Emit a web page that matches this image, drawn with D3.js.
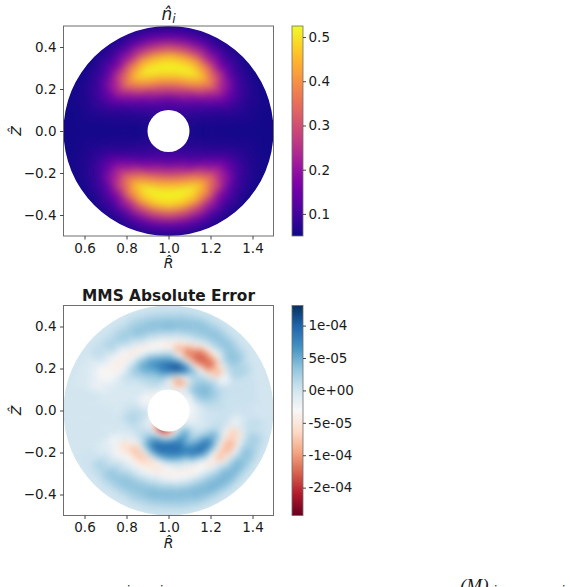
<!DOCTYPE html>
<html><head><meta charset="utf-8">
<script src="https://cdnjs.cloudflare.com/ajax/libs/d3/7.8.5/d3.min.js"></script>
<style>
html,body{margin:0;padding:0;background:#fff;overflow:hidden}
text{font-family:"DejaVu Sans",sans-serif;fill:#1a1a1a}
</style></head><body>
<svg id="fig" width="570" height="587"></svg>
<script>
// ---- shared axis data ----
const xTicks = [0.6,0.8,1.0,1.2,1.4];
const yTicks = [-0.4,-0.2,0.0,0.2,0.4];
const thetaStepDeg = 10;

// ---- top panel: ion density, radial profiles, one row per angle (0..350 deg, CCW from +R) ----
const densityRadii = [0.10,0.15,0.20,0.25,0.30,0.35,0.40,0.45,0.50];
const densityProfiles = [
[.06,.055,.055,.055,.055,.055,.055,.055,.055],
[.06,.055,.06,.06,.06,.06,.06,.055,.055],
[.06,.065,.065,.07,.085,.08,.07,.06,.055],
[.065,.07,.085,.11,.15,.13,.09,.065,.055],
[.07,.085,.115,.18,.26,.21,.12,.075,.055],
[.075,.10,.16,.29,.39,.30,.16,.09,.06],
[.08,.12,.21,.38,.48,.38,.21,.11,.06],
[.085,.13,.26,.42,.52,.44,.26,.13,.065],
[.09,.14,.28,.43,.54,.46,.28,.14,.065],
[.09,.14,.28,.44,.56,.47,.29,.14,.065],
[.09,.14,.28,.43,.54,.46,.28,.14,.065],
[.085,.13,.26,.42,.52,.44,.26,.13,.065],
[.08,.12,.21,.38,.48,.38,.21,.11,.06],
[.075,.10,.16,.29,.39,.30,.16,.09,.06],
[.07,.085,.115,.18,.26,.21,.12,.075,.055],
[.065,.07,.085,.11,.15,.13,.09,.065,.055],
[.06,.065,.065,.07,.085,.08,.07,.06,.055],
[.06,.055,.06,.06,.06,.06,.06,.055,.055],
[.06,.055,.055,.055,.055,.055,.055,.055,.055],
[.06,.055,.06,.06,.06,.06,.06,.055,.055],
[.06,.065,.065,.07,.085,.08,.07,.06,.055],
[.065,.07,.08,.11,.15,.13,.09,.065,.055],
[.07,.08,.11,.17,.25,.21,.12,.075,.055],
[.075,.09,.14,.27,.37,.30,.16,.09,.06],
[.08,.11,.19,.36,.47,.39,.22,.11,.06],
[.085,.125,.24,.40,.52,.45,.27,.13,.065],
[.09,.13,.26,.42,.54,.48,.30,.14,.065],
[.09,.13,.26,.43,.56,.49,.31,.14,.065],
[.09,.13,.26,.42,.54,.48,.30,.14,.065],
[.085,.125,.24,.40,.52,.45,.27,.13,.065],
[.08,.11,.19,.36,.47,.39,.22,.11,.06],
[.075,.09,.14,.27,.37,.30,.16,.09,.06],
[.07,.08,.11,.17,.25,.21,.12,.075,.055],
[.065,.07,.08,.11,.15,.13,.09,.065,.055],
[.06,.065,.065,.07,.085,.08,.07,.06,.055],
[.06,.055,.06,.06,.06,.06,.06,.055,.055]
];
const densityDomain = [0.05,0.525];
const densityTicks = [0.1,0.2,0.3,0.4,0.5];
const densityTickLabels = ["0.1","0.2","0.3","0.4","0.5"];

// ---- bottom panel: error, in units of 1e-5, radial profiles per angle ----
const errorRadii = [.100,.125,.150,.175,.200,.225,.250,.275,.300,.325,.350,.375,.400,.425,.450,.475,.500];
const errorProfiles = [
[-3,-2,-1,0,.5,.5,.5,.5,.5,.3,.3,.3,.3,0,0,0,0],
[-3,-2,-.5,1,1.5,1.5,1,.5,.5,.5,.5,.5,.5,.3,0,0,0],
[-3,-1,2,3,3.5,3,2,1,.5,.5,.5,.5,.5,.5,0,0,0],
[-3,-2,2.5,4,4.5,3.5,2,-.5,-2.5,-1.5,1.5,2,2,1.5,.5,0,0],
[-4,-1,3.5,3.5,3,2.5,-.5,-7,-8.5,-5.5,.5,3,3.5,3,1.5,.3,0],
[-1,-.5,.5,1.5,2,1,-4,-11,-12.5,-9.5,-3.5,1,3,3.5,2,.5,0],
[-1,-3,-8,-3,3,4,-5,-12,-13,-10.5,-4,1,3,3.5,2.5,1,0],
[-2,-8,-10,-1,8,8,-1,-10,-11.5,-7,-1.5,1.5,3,3.5,3,1,.3],
[-1,-5,-7.5,3,11,10,3,-4,-9,-5,-1,1.5,3.5,3.5,2.5,1,.3],
[-1,-1,-1.5,5,9.5,9,5,1,-4,-4,-.5,2,4,3.5,2,.8,0],
[-2,0,1.5,5,8,8,5.5,1,-3.5,-3.5,-.5,2,3.5,3.5,2,.8,0],
[-2,.5,2,3,5,6.5,6,2.5,-2.5,-4,-.5,2,3.5,3,2,.8,0],
[-3,.5,1.5,2,3.5,5,5,2.5,-2.5,-4.5,-1.5,.8,2.5,2.5,1.5,.3,0],
[-4,-.5,.5,1,1.5,2.5,3,1,-2.5,-4.5,-3,-.5,1.5,2,1,.3,0],
[-4,-1.5,-1,0,0,.5,1,0,-3,-4.5,-3.5,-1.5,0,1,.8,.3,0],
[-3,-3,-1,0,-.5,0,0,-.5,-2,-3,-3.5,-3,-1.5,-1,-.5,0,0],
[-2,-3,-1.5,-.5,-.5,-.5,-.5,-.5,-1,-1.5,-2,-2,-1,-.5,-.5,0,0],
[-1,-2,0,0,0,-.5,-.5,-.5,-.5,-.5,0,0,0,0,0,0,0],
[0,.5,.8,1,.5,0,-.5,0,0,0,0,0,0,0,0,0,0],
[0,1,1.5,2,1.5,.5,0,0,0,0,0,0,0,0,0,0,0],
[-1,.5,1,1.5,1,0,0,0,-.5,0,0,0,0,0,0,0,0],
[-2,-.5,0,1,0,-.5,-1,-2,-2.5,-1.5,-1,-.5,0,.3,.3,.3,0],
[-4,-.5,.5,1,0,-2,-5,-6,-4,-2.5,-.5,.5,1.5,2,1,.3,0],
[-8,-.5,2,2.5,.5,-5,-8,-5.5,-3,-1,.5,2,3,3,1.5,.3,0],
[-12,-2,4.5,6,5,-1.5,-7.5,-6.5,-3.5,-1,1,3,3.5,3,1.5,.3,0],
[-15,-4,6.5,9,8,2.5,-5,-6,-3.5,-1.5,1,3,3.5,3,2,.5,0],
[-15,-5,6,9.5,9,5,-2.5,-5,-4,-1.5,1,3,4,3.5,2,.8,0],
[-13,-3,7,9.5,8.5,6,.5,-3,-4,-2.5,.5,3,4,3.5,2,.8,0],
[-9,-1,7,9.5,9,6.5,1.5,-1.5,-4,-3,0,2.5,4,3.5,2.5,1,0],
[-3,2.5,7,8.5,8.5,7,2,-1,-4,-3.5,0,2.5,4,4,3,1,0],
[-.5,4,6.5,4.5,6.5,8.5,6.5,.5,-3.5,-3,0,2.5,4,4.5,3,1,0],
[0,4.5,4,2,5,8.5,9,4,-2.5,-5,-1.5,2,4,4.5,3.5,1,0],
[-1,1,1,1,3.5,7,8.5,4,-3.5,-8,-6,0,3.5,4.5,3,1,0],
[-2,-.5,-.5,0,1,3.5,5,2,-4.5,-8.5,-8,-2.5,2.5,3.5,3,1,0],
[-2,-2,-1,-.5,0,.8,1.5,0,-4,-7,-6,-1.5,1.5,2.5,2,.8,0],
[-3,-2,-.5,0,.3,.3,.5,.5,-.5,-2,-1,.3,.8,.8,.5,.3,0]
];
const errorDomain = [-19.3,13.1];
const errorTicks = [10,5,0,-5,-10,-15];
const errorTickLabels = ["1e-04","5e-05","0e+00","-5e-05","-1e-04","-2e-04"];
const rdbuStops = ["#67001f","#b2182b","#d6604d","#f4a582","#fddbc7","#f7f7f7","#d1e5f0","#92c5de","#4393c3","#2166ac","#053061"];

// ---- cut-off caption at the foot of the page ----
const captionTexts = ["i","i","(M)","i","i"];

const svg = d3.select("#fig");
const defs = svg.append("defs");

function panel(o){
  const x = d3.scaleLinear().domain([0.5,1.5]).range([o.left,o.left+o.size]);
  const y = d3.scaleLinear().domain([-0.5,0.5]).range([o.top+o.size,o.top]);
  const rad = d3.scaleLinear().domain([0,1]).range([0,o.size]);
  const cx = x(1), cy = y(0);

  const annulus = d3.path();
  annulus.arc(cx,cy,rad(0.5),0,2*Math.PI); annulus.closePath();
  annulus.moveTo(cx+rad(0.1),cy); annulus.arc(cx,cy,rad(0.1),0,2*Math.PI); annulus.closePath();
  defs.append("clipPath").attr("id",o.id+"-clip").append("path").attr("d",annulus.toString()).attr("clip-rule","evenodd");
  const f = defs.append("filter").attr("id",o.id+"-blur").attr("filterUnits","userSpaceOnUse")
    .attr("x",o.left-30).attr("y",o.top-30).attr("width",o.size+60).attr("height",o.size+60)
    .attr("color-interpolation-filters","sRGB");
  f.append("feGaussianBlur").attr("stdDeviation",o.blur);

  const field = svg.append("g").attr("clip-path",`url(#${o.id}-clip)`)
    .append("g").attr("filter",`url(#${o.id}-blur)`)
    .append("g").attr("transform",`translate(${cx},${cy})`);
  const dr = o.radii[1]-o.radii[0];
  const arc = d3.arc();
  const cells = [];
  o.profiles.forEach((p,i)=>p.forEach((v,j)=>cells.push({i,j,v})));
  field.selectAll("path").data(cells).join("path")
    .attr("d",d=>{
      const r = o.radii[d.j];
      const a = d.i*thetaStepDeg;
      // angle 0 = +R, counter-clockwise; d3.arc measures clockwise from north
      const a0 = (90-a-thetaStepDeg/2)*Math.PI/180, a1 = (90-a+thetaStepDeg/2)*Math.PI/180;
      const inner = d.j===0 ? r-dr*2 : r-dr/2;
      const outer = d.j===o.radii.length-1 ? r+dr*3 : r+dr/2;
      return arc({innerRadius:rad(Math.max(inner,0.01)),outerRadius:rad(outer),startAngle:a0,endAngle:a1});
    })
    .attr("fill",d=>o.color(d.v)).attr("stroke",d=>o.color(d.v)).attr("stroke-width",0.8);

  // frame
  svg.append("rect").attr("x",o.left).attr("y",o.top).attr("width",o.size).attr("height",o.size)
    .attr("fill","none").attr("stroke","#6e6e6e").attr("stroke-width",1);

  const style = g=>{
    g.select(".domain").remove();
    g.selectAll("line").attr("stroke","#333").attr("stroke-width",0.9);
    g.selectAll("text").attr("font-size",o.fontSize).style("font-family",'"DejaVu Sans",sans-serif').attr("fill","#1a1a1a");
  };
  svg.append("g").attr("transform",`translate(0,${o.top+o.size})`)
    .call(d3.axisBottom(x).tickValues(xTicks).tickFormat(d3.format(".1f")).tickSize(3.5).tickPadding(3.5)).call(style);
  svg.append("g").attr("transform",`translate(${o.left},0)`)
    .call(d3.axisLeft(y).tickValues(yTicks).tickFormat(d3.format(".1f")).tickSize(3.5).tickPadding(3.5)).call(style);

  // axis labels
  svg.append("text").attr("x",cx).attr("y",o.top+o.size+32).attr("text-anchor","middle")
    .attr("font-size",14).attr("font-style","italic").text("R\u0302");
  svg.append("text").attr("transform",`translate(21,${cy}) rotate(-90)`).attr("text-anchor","middle")
    .attr("font-size",14).attr("font-style","italic").text("Z\u0302");

  // title
  if(o.mathTitle){
    const t = svg.append("text").attr("x",cx).attr("y",o.top-6).attr("text-anchor","middle").attr("font-size",17);
    t.append("tspan").attr("font-style","italic").text("n\u0302");
    t.append("tspan").attr("font-style","italic").attr("font-size",12).attr("dy",2.5).text("i");
  } else {
    svg.append("text").attr("x",cx).attr("y",o.top-5).attr("text-anchor","middle")
      .attr("font-size",15.4).attr("font-weight","bold").attr("fill","#111").text(o.title);
  }

  // colorbar
  const cbX = 292, cbW = 11;
  const cbY = d3.scaleLinear().domain(o.domain).range([o.top+o.size,o.top]);
  const grad = defs.append("linearGradient").attr("id",o.id+"-grad").attr("x1",0).attr("x2",0).attr("y1",1).attr("y2",0);
  d3.range(0,1.0001,1/64).forEach(t=>{
    grad.append("stop").attr("offset",t).attr("stop-color",o.color(o.domain[0]+t*(o.domain[1]-o.domain[0])));
  });
  svg.append("rect").attr("x",cbX).attr("y",o.top).attr("width",cbW).attr("height",o.size)
    .attr("fill",`url(#${o.id}-grad)`).attr("stroke","#6e6e6e").attr("stroke-width",0.8);
  svg.append("g").attr("transform",`translate(${cbX+cbW},0)`)
    .call(d3.axisRight(cbY).tickValues(o.cbTicks).tickFormat((d,i)=>o.cbLabels[i]).tickSize(3).tickPadding(2.5)).call(style);
}

panel({id:"n",left:63.5,top:26,size:210,blur:5,fontSize:13.5,mathTitle:true,
  radii:densityRadii,profiles:densityProfiles,domain:densityDomain,
  color:v=>d3.interpolatePlasma(Math.min(1,(v-densityDomain[0])/(densityDomain[1]-densityDomain[0]))),
  cbTicks:densityTicks,cbLabels:densityTickLabels});

const rdbu = d3.scaleLinear()
  .domain(rdbuStops.map((_,i)=>errorDomain[0]+i/(rdbuStops.length-1)*(errorDomain[1]-errorDomain[0])))
  .range(rdbuStops).clamp(true);
panel({id:"e",left:63.5,top:305.5,size:210,blur:3,fontSize:13.5,title:"MMS Absolute Error",
  radii:errorRadii,profiles:errorProfiles,domain:errorDomain,color:rdbu,
  cbTicks:errorTicks,cbLabels:errorTickLabels});

// the caption is cut by the page edge in the reference too
const captionX = [126,159,460,493,561], captionY = [595,595,592,595,595], captionSize = [14,14,19,14,14];
svg.selectAll("text.cap").data(captionTexts).join("text").attr("class","cap")
  .attr("x",(d,i)=>captionX[i]).attr("y",(d,i)=>captionY[i]).attr("font-size",(d,i)=>captionSize[i])
  .style("font-family",'"Liberation Serif",serif').style("font-style","italic").text(d=>d);
</script>
</body></html>
